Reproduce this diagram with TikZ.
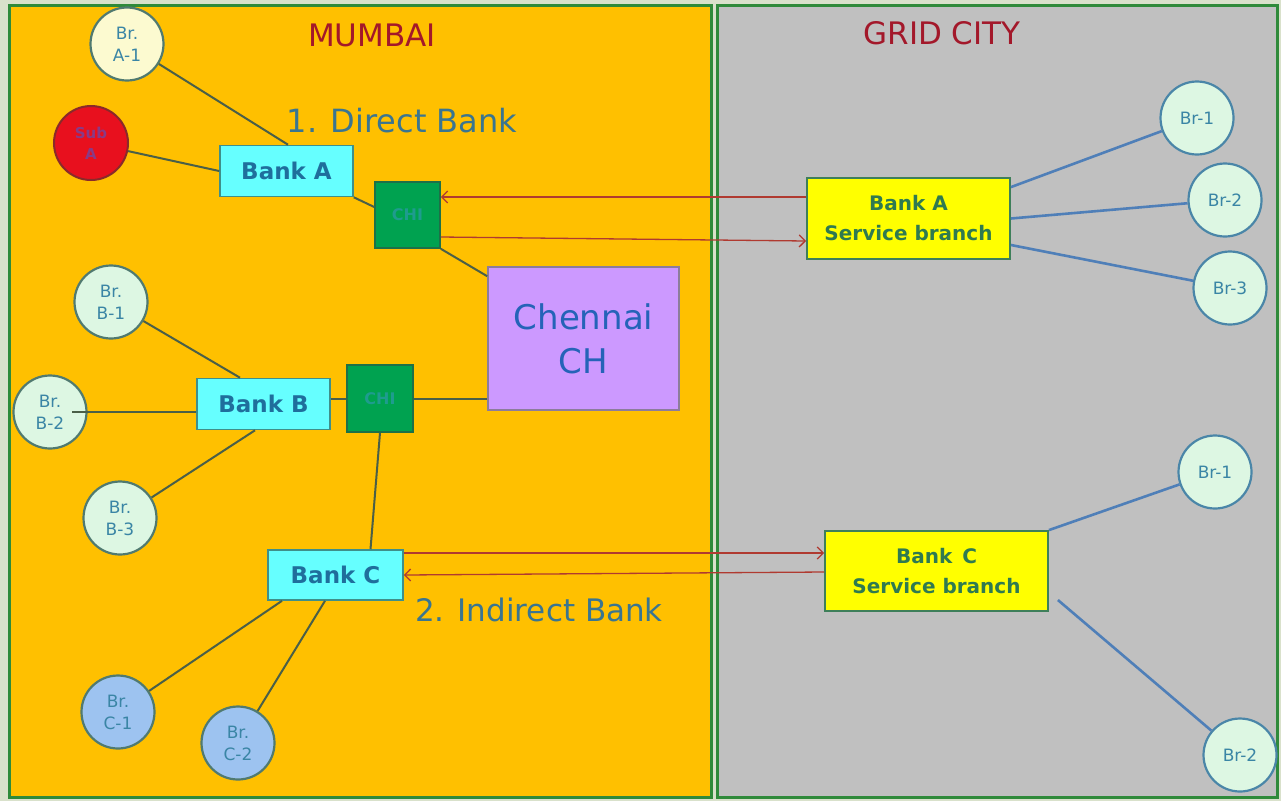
\documentclass[tikz,border=0pt]{standalone}
\usepackage{fontspec}
\setmainfont{DejaVu Sans}
\usetikzlibrary{arrows.meta,calc}

\definecolor{pagebg}{HTML}{D9E1CB}
\definecolor{frame}{HTML}{2F8A3A}
\definecolor{mumbai}{HTML}{FFC000}
\definecolor{gridbg}{HTML}{C0C0C0}
\definecolor{citytext}{HTML}{A3182A}
\definecolor{bankfill}{HTML}{66FFFF}
\definecolor{bankedge}{HTML}{3F8F8A}
\definecolor{banktext}{HTML}{1F6E9C}
\definecolor{chgreen}{HTML}{00A250}
\definecolor{chedge}{HTML}{1E7048}
\definecolor{chtext}{HTML}{1E9C8E}
\definecolor{lav}{HTML}{CC99FF}
\definecolor{lavedge}{HTML}{8C7C9C}
\definecolor{chennaitext}{HTML}{2563B8}
\definecolor{sbfill}{HTML}{FFFF00}
\definecolor{sbedge}{HTML}{3E7F5A}
\definecolor{sbtext}{HTML}{2F7A50}
\definecolor{brfill}{HTML}{DDF7E3}
\definecolor{bryellow}{HTML}{FCFAD0}
\definecolor{brblue}{HTML}{9DC3F0}
\definecolor{bredge}{HTML}{507A70}
\definecolor{gridedge}{HTML}{4A86A8}
\definecolor{brtext}{HTML}{3A85A5}
\definecolor{subred}{HTML}{E8101E}
\definecolor{subedge}{HTML}{8A2A2A}
\definecolor{subtext}{HTML}{8A3A86}
\definecolor{wire}{HTML}{4A5F48}
\definecolor{bluewire}{HTML}{4F7FB8}
\definecolor{flow}{HTML}{B03A30}
\definecolor{headtext}{HTML}{3A7590}

\begin{document}
\begin{tikzpicture}[x=1pt,y=-1pt,
  panel/.style={draw=frame,line width=3pt},
  brcircle/.style={circle,draw=bredge,line width=2.2pt,fill=brfill,minimum size=73pt,
    inner sep=0pt,align=center,text=brtext,font=\fontsize{17}{22}\selectfont},
  gridcircle/.style={brcircle,draw=gridedge},
  subcircle/.style={circle,draw=subedge,line width=2pt,fill=subred,minimum size=74pt,
    inner sep=0pt,align=center,text=subtext,font=\fontsize{15}{21}\selectfont\bfseries},
  bankbox/.style={rectangle,draw=bankedge,line width=1.6pt,fill=bankfill,inner sep=0pt,
    minimum width=133pt,minimum height=51pt,text=banktext,
    font=\fontsize{23}{25}\selectfont\bfseries},
  chibox/.style={rectangle,draw=chedge,line width=1.6pt,fill=chgreen,inner sep=0pt,
    minimum width=65pt,minimum height=66pt,text=chtext,font=\fontsize{16}{18}\selectfont\bfseries},
  chbox/.style={rectangle,draw=lavedge,line width=1.6pt,fill=lav,inner sep=0pt,
    minimum width=191pt,minimum height=143pt,align=center,text=chennaitext,
    font=\fontsize{34}{44}\selectfont},
  sbbox/.style={rectangle,draw=sbedge,line width=1.8pt,fill=sbfill,inner sep=0pt,
    align=center,text=sbtext,font=\fontsize{20}{30}\selectfont\bfseries},
  citylabel/.style={text=citytext,font=\fontsize{31}{33}\selectfont},
  kindlabel/.style={text=headtext,font=\fontsize{32}{34}\selectfont},
  wireline/.style={draw=wire,line width=2pt},
  bluelink/.style={draw=bluewire,line width=2.6pt},
  flowline/.style={draw=flow,line width=1.3pt,-{Straight Barb[length=6pt,width=12pt,line width=1.3pt]}}
]
% page and the two city panels
\fill[pagebg] (0,0) rectangle (1281,801);
\useasboundingbox (0,0) rectangle (1281,801);
\fill[mumbai] (9.5,5.5) rectangle (711,797.5);
\draw[panel] (9.5,5.5) rectangle (711,797.5);
\fill[gridbg] (717.5,5.5) rectangle (1277.5,797.5);
\draw[panel] (717.5,5.5) rectangle (1277.5,797.5);

% headings
\node[citylabel] (mumbailbl) at (372,35) {MUMBAI};
\node[citylabel] (gridlbl) at (942,33) {GRID CITY};
\node[kindlabel] (directlbl) at (402,121) {1. Direct Bank};
\node[kindlabel,font=\fontsize{31}{33}\selectfont] (indirectlbl) at (539,610) {2. Indirect Bank};

% Mumbai side
\node[brcircle,fill=bryellow] (a1) at (127,44) {Br.\\A-1};
\node[subcircle] (suba) at (91,143) {Sub\\A};
\node[bankbox] (banka) at (286.5,171) {Bank A};
\node[chibox] (chi1) at (407.5,215) {CHI};
\node[chbox] (chennai) at (583.5,338.5) {Chennai\\CH};
\node[chibox,minimum width=66pt,minimum height=67pt] (chi2) at (380,398.5) {CHI};
\node[bankbox] (bankb) at (263.5,404) {Bank B};
\node[brcircle] (b1) at (111,302) {Br.\\B-1};
\node[brcircle] (b2) at (50,412) {Br.\\B-2};
\node[brcircle] (b3) at (120,518) {Br.\\B-3};
\node[bankbox,minimum width=135pt,minimum height=50pt] (bankc) at (335.5,575) {Bank C};
\node[brcircle,fill=brblue] (c1) at (118,712) {Br.\\C-1};
\node[brcircle,fill=brblue] (c2) at (238,743) {Br.\\C-2};

% Grid City side
\node[sbbox,minimum width=203pt,minimum height=81pt] (sba) at (908.5,218.5) {Bank A\\Service branch};
\node[sbbox,minimum width=223pt,minimum height=80pt] (sbc) at (936.5,571) {Bank\enspace C\\Service branch};
\node[gridcircle] (g1) at (1197,118) {Br-1};
\node[gridcircle] (g2) at (1225,200) {Br-2};
\node[gridcircle] (g3) at (1230,288) {Br-3};
\node[gridcircle] (h1) at (1215,472) {Br-1};
\node[gridcircle] (h2) at (1240,755) {Br-2};

% Mumbai links
\draw[wireline] (a1) -- ([xshift=1.5pt]banka.north);
\draw[wireline] (suba) -- (banka.west);
\draw[wireline] (banka.south east) -- ([yshift=8pt]chi1.west);
\draw[wireline] (chi1.south east) -- ([yshift=-10pt]chennai.north west);
\draw[wireline] (chi2.west) -- (chi2.west -| bankb.east);
\draw[wireline] (chi2.east) -- (chi2.east -| chennai.west);
\draw[wireline] (chi2.south) -- ([xshift=35pt]bankc.north);
\draw[wireline] (b1) -- ([xshift=-23.5pt]bankb.north);
\draw[wireline] ([xshift=22pt]b2.center) -- (b2.center -| bankb.west);
\draw[wireline] (b3) -- ([xshift=-8.5pt]bankb.south);
\draw[wireline] ([xshift=-53.5pt]bankc.south) -- (c1);
\draw[wireline] ([xshift=-10.5pt]bankc.south) -- (c2);

% Grid City links
\draw[bluelink] ([yshift=-10pt]sba.north east) -- (g1);
\draw[bluelink] (sba.east) -- (g2);
\draw[bluelink] ([yshift=-26.5pt]sba.east) -- (g3);
\draw[bluelink] (sbc.north east) -- (h1);
\draw[bluelink] ([xshift=9pt,yshift=-29pt]sbc.east) -- (h2);

% clearing messages between the cities
\draw[flowline] ([yshift=21.5pt]sba.west) -- ([yshift=21.5pt]sba.west -| chi1.east);
\draw[flowline] ([yshift=-22pt]chi1.east) -- ([yshift=-22.5pt]sba.west);
\draw[flowline] ([yshift=22pt]bankc.east) -- ([yshift=22pt]bankc.east -| sbc.west);
\draw[flowline] ([yshift=-1pt]sbc.west) -- (bankc.east);
\end{tikzpicture}
\end{document}
